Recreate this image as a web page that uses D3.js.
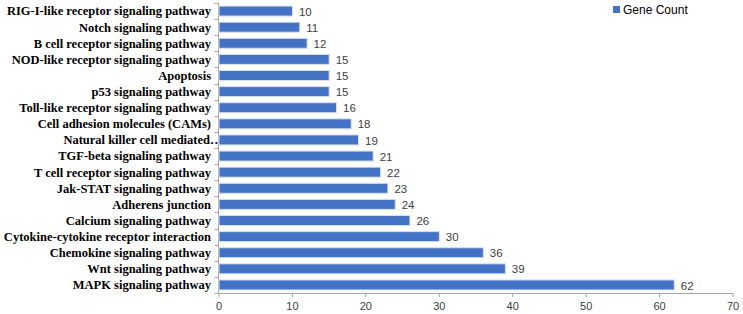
<!DOCTYPE html>
<html>
<head>
<meta charset="utf-8">
<script src="https://cdn.jsdelivr.net/npm/d3@7"></script>
<style>
  body { margin: 0; background: #fff; }
  svg { display: block; }
</style>
</head>
<body>
<svg id="chart" width="743" height="314"></svg>
<script>
// pathways top to bottom, as in the figure
const pathways = [
  'RIG-I-like receptor signaling pathway',
  'Notch signaling pathway',
  'B cell receptor signaling pathway',
  'NOD-like receptor signaling pathway',
  'Apoptosis',
  'p53 signaling pathway',
  'Toll-like receptor signaling pathway',
  'Cell adhesion molecules (CAMs)',
  'Natural killer cell mediated…',
  'TGF-beta signaling pathway',
  'T cell receptor signaling pathway',
  'Jak-STAT signaling pathway',
  'Adherens junction',
  'Calcium signaling pathway',
  'Cytokine-cytokine receptor interaction',
  'Chemokine signaling pathway',
  'Wnt signaling pathway',
  'MAPK signaling pathway'
]
const geneCounts = [10, 11, 12, 15, 15, 15, 16, 18, 19, 21, 22, 23, 24, 26, 30, 36, 39, 62]
const xTicks = [0, 10, 20, 30, 40, 50, 60, 70]
const seriesName = 'Gene Count'

const svg = d3.select('#chart')
const margin = { top: 3, right: 10.5, bottom: 21, left: 218.5 }
const width = 743 - margin.left - margin.right
const height = 314 - margin.top - margin.bottom

const g = svg.append('g').attr('transform', `translate(${margin.left},${margin.top})`)

const x = d3.scaleLinear().domain([0, 70]).range([0, width])
const y = d3.scaleBand().domain(pathways).range([0, height]).paddingInner(0.38).paddingOuter(0.19)

const axisColor = '#a6a6a6'

// x axis
const xAxis = g.append('g')
  .attr('transform', `translate(0,${height})`)
  .call(d3.axisBottom(x).tickValues(xTicks).tickSize(4).tickSizeOuter(0))
xAxis.select('.domain').attr('stroke', axisColor)
xAxis.selectAll('.tick line').attr('stroke', axisColor)
xAxis.selectAll('.tick text')
  .attr('fill', '#404040')
  .attr('font-family', 'Liberation Sans, Arial, sans-serif')
  .attr('font-size', 11)
  .attr('dy', '0.95em')

// y axis line + ticks between categories
g.append('line')
  .attr('x1', 0).attr('x2', 0).attr('y1', 0).attr('y2', height)
  .attr('stroke', axisColor)
g.selectAll('.ytick')
  .data(d3.range(pathways.length + 1))
  .enter().append('line')
  .attr('x1', -4).attr('x2', 0)
  .attr('y1', i => Math.round(i * height / pathways.length) + 0.5)
  .attr('y2', i => Math.round(i * height / pathways.length) + 0.5)
  .attr('stroke', axisColor)

// category labels
g.selectAll('.cat')
  .data(pathways)
  .enter().append('text')
  .attr('x', d => d.endsWith('…') ? 4 : -7.5)
  .attr('y', d => y(d) + y.bandwidth() / 2)
  .attr('dy', '0.35em')
  .attr('text-anchor', 'end')
  .attr('font-family', 'Liberation Serif, Times New Roman, serif')
  .attr('font-weight', 'bold')
  .attr('font-size', 12.5)
  .attr('fill', '#000')
  .text(d => d)

// bars
g.selectAll('.bar')
  .data(pathways)
  .enter().append('rect')
  .attr('x', 0.5)
  .attr('y', d => y(d))
  .attr('width', (d, i) => x(geneCounts[i]))
  .attr('height', y.bandwidth())
  .attr('fill', '#4472c4')
  .attr('stroke', '#d6e0f3')
  .attr('stroke-width', 1)

// value labels
g.selectAll('.val')
  .data(pathways)
  .enter().append('text')
  .attr('x', (d, i) => x(geneCounts[i]) + 7)
  .attr('y', d => y(d) + y.bandwidth() / 2)
  .attr('dy', '0.4em')
  .attr('font-family', 'Liberation Sans, Arial, sans-serif')
  .attr('font-size', 11.5)
  .attr('fill', '#404040')
  .text((d, i) => geneCounts[i])

// legend
const legend = svg.append('g').attr('transform', 'translate(613,6)')
legend.append('rect')
  .attr('width', 7).attr('height', 7)
  .attr('fill', '#4472c4')
legend.append('text')
  .attr('x', 10).attr('y', 3.5)
  .attr('dy', '0.35em')
  .attr('font-family', 'Liberation Sans, Arial, sans-serif')
  .attr('font-size', 12)
  .attr('fill', '#000')
  .text(seriesName)
</script>
</body>
</html>
